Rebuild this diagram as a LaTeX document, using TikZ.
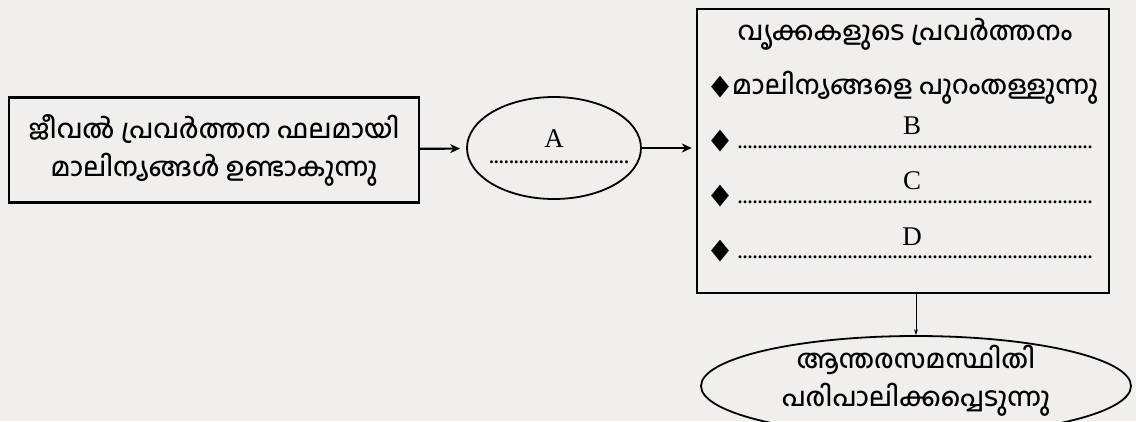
\documentclass[tikz,border=0pt]{standalone}
\usepackage{fontspec}
\setmainfont{Liberation Serif}
\newfontfamily\mal[Script=Malayalam]{Hind Kochi Medium}
\newfontfamily\symf{DejaVu Sans}
\usetikzlibrary{arrows.meta, positioning, shapes.geometric}
\definecolor{paper}{RGB}{240,239,236}
\newcommand{\dotline}[1]{\makebox[#1]{\leaders\hbox to 5pt{\hss.\hss}\hfill}}
\newcommand{\bul}{{\symf\fontsize{26}{26}\selectfont\scalebox{0.9}[1.1]{◆}}}

\begin{document}
\begin{tikzpicture}[
    x=1pt, y=-1pt,
    kattam/.style = {rectangle, draw, line width=2.4pt},
    vrittam/.style = {ellipse, draw, line width=1.8pt, align=center},
    malt/.style = {font=\mal\fontsize{26}{38}\selectfont, align=center},
    dots/.style = {inner sep=0pt, font=\bfseries\fontsize{18}{20}\selectfont},
    diam/.style = {inner sep=0pt, anchor=base west},
    pil/.style = {black, line width=2.2pt, -{Stealth[length=10pt,width=9pt]}},
    tpil/.style = {black, line width=0.9pt, -{Stealth[length=6pt,width=4pt]}},
    font=\fontsize{27}{30}\selectfont
    ]
  \fill[paper] (0,0) rectangle (1136,421);
  \useasboundingbox (0,0) rectangle (1136,421);

  \node[kattam, malt, minimum width=410, minimum height=105] (jeeval) at (214,150)
    {ജീവൽ പ്രവർത്തന ഫലമായി\\മാലിന്യങ്ങൾ ഉണ്ടാകുന്നു} ;
  \node[vrittam, minimum width=174, minimum height=102] (A) at (554,148) {} ;
  \node[inner sep=1pt] (Aname) at (554,139) {A} ;
  \node[dots] (Adots) at (559,162) {\dotline{140pt}} ;

  \node[kattam, minimum width=412, minimum height=284] (vrikka) at (903,151) {} ;
  \node[malt] (title) at (905,34) {വൃക്കകളുടെ പ്രവർത്തനം} ;
  \node[malt, anchor=west, inner sep=0pt] (b1) at (711,88)
    {\bul\hspace{3pt}മാലിന്യങ്ങളെ പുറംതള്ളുന്നു} ;

  \node[inner sep=1pt] (B) at (912,126) {B} ;
  \node[diam] (dB) at (711,148) {\bul} ;
  \node[dots, anchor=base west] (Bdots) at ([xshift=8pt]dB.base east) {\dotline{359pt}} ;
  \node[inner sep=1pt] (C) at (912,181) {C} ;
  \node[diam] (dC) at (711,203) {\bul} ;
  \node[dots, anchor=base west] (Cdots) at ([xshift=8pt]dC.base east) {\dotline{359pt}} ;
  \node[inner sep=1pt] (D) at (912,237) {D} ;
  \node[diam] (dD) at (711,258) {\bul} ;
  \node[dots, anchor=base west] (Ddots) at ([xshift=8pt]dD.base east) {\dotline{359pt}} ;

  \node[vrittam, minimum width=430, minimum height=100] (sthiti) at (916,386) {} ;
  \node[malt] (sthititext) at (916,381) {ആന്തരസമസ്ഥിതി\\പരിപാലിക്കപ്പെടുന്നു} ;

  \draw[pil, shorten >=6pt] (jeeval) -- (A) ;
  \draw[pil, shorten >=4pt] (A) -- (A -| vrikka.west) ;
  \draw[tpil] (vrikka.south -| sthiti.north) -- (sthiti.north) ;
\end{tikzpicture}
\end{document}
